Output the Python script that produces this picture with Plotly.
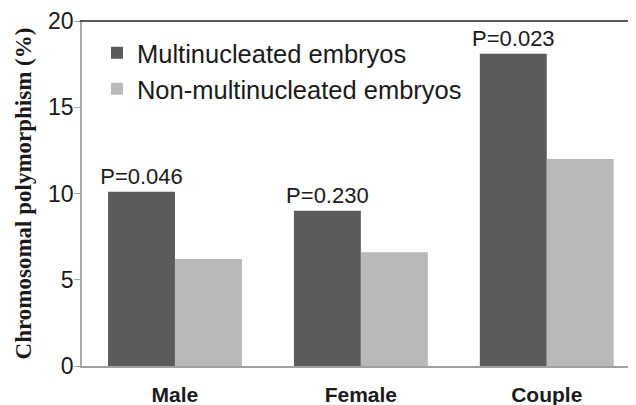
import plotly.graph_objects as go

categories = ["Male", "Female", "Couple"]
multi_vals = [10.1, 9.0, 18.1]
non_multi_vals = [6.2, 6.6, 12.0]
p_labels = ["P=0.046", "P=0.230", "P=0.023"]
series_names = ["Multinucleated embryos", "Non-multinucleated embryos"]
y_ticks = [0, 5, 10, 15, 20]

SANS = "Liberation Sans, Arial, sans-serif"
SERIF = "Liberation Serif, Times New Roman, serif"

fig = go.Figure()
fig.add_trace(go.Bar(
    x=categories, y=multi_vals, name=series_names[0],
    marker=dict(color="#5b5b5b", line=dict(width=0)),
    text=p_labels, textposition="outside", constraintext="none",
    textfont=dict(family=SANS, size=22, color="#1a1a1a"),
    cliponaxis=False,
))
fig.add_trace(go.Bar(
    x=categories, y=non_multi_vals, name=series_names[1],
    marker=dict(color="#b9b9b9", line=dict(width=0)),
))

# page body adds an 8px offset; margins compensate so the plot lands where the reference has it
fig.update_layout(
    width=636, height=405,
    margin=dict(l=74, r=8, t=12.5, b=46.5, autoexpand=False),
    paper_bgcolor="white", plot_bgcolor="white",
    barmode="group", bargap=0.28, bargroupgap=0,
    font=dict(family=SANS, color="#1a1a1a"),
    legend=dict(
        x=0.027, y=0.975, xanchor="left", yanchor="top",
        font=dict(family=SANS, size=25.5, color="#1a1a1a"),
        bgcolor="rgba(0,0,0,0)", tracegroupgap=0,
    ),
    xaxis=dict(
        range=[-0.5, 2.48], showline=True, linecolor="#a0a0a0", linewidth=2,
        ticks="", showgrid=False, zeroline=False, automargin=False,
        tickfont=dict(family=SANS, size=21, color="#1a1a1a", weight="bold"),
        ticklabelstandoff=9,
    ),
    yaxis=dict(
        range=[0, 20], tickvals=y_ticks, showline=True, linecolor="#aaaaaa",
        linewidth=1.5, ticks="outside", ticklen=6, tickcolor="#aaaaaa",
        tickwidth=1, showgrid=False, zeroline=False, automargin=False,
        tickfont=dict(family=SANS, size=23, color="#1a1a1a"),
        ticklabelstandoff=-4,
        title=dict(text="Chromosomal polymorphism (%)",
                   font=dict(family=SERIF, size=23, color="#1a1a1a", weight="bold"),
                   standoff=10),
    ),
    shapes=[dict(type="line", xref="paper", yref="paper", x0=-0.004, x1=1, y0=1, y1=1,
                 line=dict(color="#222222", width=1.5))],
)

fig.write_html("out.html")
